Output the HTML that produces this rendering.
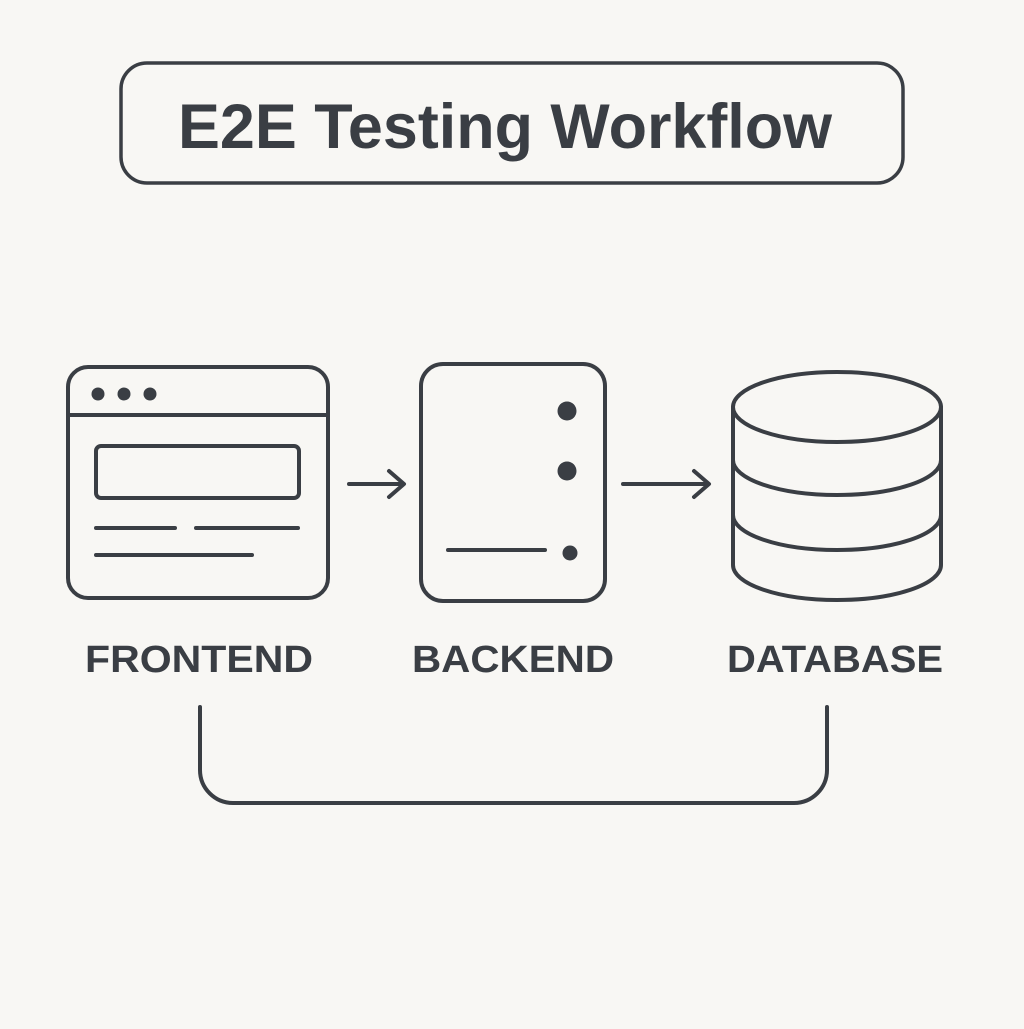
<!DOCTYPE html>
<html><head><style>
html,body{margin:0;padding:0;background:#f8f7f4;}
</style></head><body>
<svg width="1024" height="1024" viewBox="0 0 1024 1024" xmlns="http://www.w3.org/2000/svg">
<rect width="1024" height="1024" fill="#f8f7f4"/>
<g fill="none" stroke="#3a3e44" stroke-width="4" stroke-linecap="round" stroke-linejoin="round">
<rect x="121" y="63" width="782" height="120" rx="26" stroke-width="3.5"/>
<rect x="68" y="367" width="260" height="231" rx="20"/>
<line x1="68" y1="415" x2="328" y2="415"/>
<rect x="96" y="446" width="203" height="52" rx="5"/>
<line x1="96" y1="528" x2="175" y2="528"/>
<line x1="196" y1="528" x2="298" y2="528"/>
<line x1="96" y1="555" x2="252" y2="555"/>
<line x1="349" y1="484" x2="403" y2="484"/>
<polyline points="389,471 404,484 389,497"/>
<line x1="623" y1="484" x2="708" y2="484"/>
<polyline points="694,471 709,484 694,497"/>
<rect x="421" y="364" width="184" height="237" rx="22"/>
<line x1="448" y1="550" x2="545" y2="550"/>
<path d="M733 407 V565 A104 35 0 0 0 941 565 V407"/>
<ellipse cx="837" cy="407" rx="104" ry="35"/>
<path d="M733 460 A104 35 0 0 0 941 460"/>
<path d="M733 515 A104 35 0 0 0 941 515"/>
<path d="M200 707 V770 A33 33 0 0 0 233 803 H794 A33 33 0 0 0 827 770 V707"/>
</g>
<g fill="#3a3e44">
<circle cx="98" cy="394" r="6.5"/><circle cx="124" cy="394" r="6.5"/><circle cx="150" cy="394" r="6.5"/>
<circle cx="567" cy="411" r="9.5"/><circle cx="567" cy="471" r="9.5"/><circle cx="570" cy="553" r="7.5"/>
</g>
<g fill="#3a3e44" font-family="Liberation Sans, sans-serif" font-weight="bold">
<text x="178" y="148" font-size="63" textLength="654" lengthAdjust="spacingAndGlyphs">E2E Testing Workflow</text>
<text x="85" y="672" font-size="38" textLength="228" lengthAdjust="spacingAndGlyphs">FRONTEND</text>
<text x="412" y="672" font-size="38" textLength="202" lengthAdjust="spacingAndGlyphs">BACKEND</text>
<text x="727" y="672" font-size="38" textLength="216" lengthAdjust="spacingAndGlyphs">DATABASE</text>
</g>
</svg>
</body></html>
